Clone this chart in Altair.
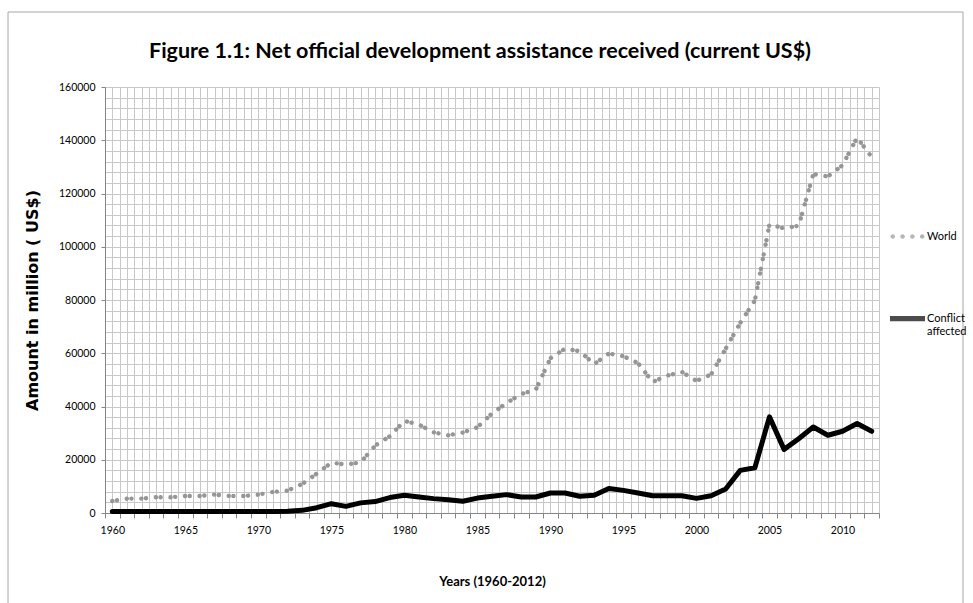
import altair as alt
import pandas as pd

# ---- data ----
years = list(range(1960, 2013))
world = [4500, 5400, 5400, 5900, 5900, 6400, 6400, 6900, 6400, 6400,
         6900, 7900, 8400, 10900, 14800, 18900, 18200, 19000, 25300, 28800,
         34600, 33200, 30300, 29200, 30200, 32200, 37400, 41300, 44700, 46300,
         58100, 61700, 60800, 55900, 59900, 58900, 56300, 49200, 51600, 53000,
         49600, 52000, 61700, 71400, 79800, 108400, 106900, 107900, 127300, 126400,
         130600, 141000, 133700]
conflict = [600, 600, 600, 600, 600, 600, 600, 600, 600, 600,
            600, 600, 700, 1000, 2000, 3500, 2500, 3800, 4300, 5800,
            6650, 6000, 5400, 5000, 4400, 5600, 6300, 6900, 6000, 6000,
            7500, 7500, 6300, 6650, 9200, 8500, 7500, 6500, 6500, 6500,
            5500, 6500, 9000, 16000, 17000, 36100, 23900, 27900, 32300, 29200,
            30700, 33600, 30700]
series_names = ["World", "Conflict affected"]
series_colors = ["#969696", "#000000"]

rows = []
for name, vals in zip(series_names, [world, conflict]):
    for yr, v in zip(years, vals):
        rows.append({"year": yr, "value": v, "series": name})
df = pd.DataFrame(rows)

x_grid = [1959.5 + 0.5 * i for i in range(107)]
y_grid = list(range(0, 160001, 4000))

FONT = "Lato"
GRID = "#c8c8c8"
AXC = "#868686"

x_axis = alt.Axis(
    values=x_grid,
    grid=True, gridColor=GRID, gridWidth=1,
    domainColor=AXC, domainWidth=1,
    tickColor={"condition": {"test": "datum.value % 1 == 0", "value": "transparent"}, "value": AXC},
    tickSize=5, tickWidth=1,
    labelExpr="datum.value % 5 == 0 ? format(datum.value, 'd') : ''",
    labelOverlap=False, labelFlush=False,
    labelPadding=7, labelFont=FONT, labelFontSize=10.5, labelColor="#000000",
    title="Years (1960-2012)", titleFont=FONT, titleFontSize=13, titleFontWeight="bold",
    titleColor="#000000", titleY=62,
)
y_axis = alt.Axis(
    values=y_grid,
    grid=True, gridColor=GRID, gridWidth=1,
    domainColor=AXC, domainWidth=1,
    tickColor={"condition": {"test": "datum.value % 20000 == 0", "value": AXC}, "value": "transparent"},
    tickSize=4, tickWidth=1,
    labelExpr="datum.value % 20000 == 0 ? format(datum.value, 'd') : ''",
    labelOverlap=False, labelFlush=False,
    labelPadding=6, labelFont=FONT, labelFontSize=10.5, labelColor="#000000",
    title="Amount in million ( US$)", titleFont="DejaVu Sans", titleFontSize=16, titleFontWeight="bold",
    titleColor="#000000", titleX=-65, titleY=213,
)

X = alt.X("year:Q", scale=alt.Scale(domain=[1959.5, 2012.5], nice=False, zero=False), axis=x_axis)
Y = alt.Y("value:Q", scale=alt.Scale(domain=[0, 160000], nice=False), axis=y_axis)

world_line = alt.Chart(df).transform_filter(alt.datum.series == "World").mark_line(
    strokeWidth=4.4, strokeCap="round", strokeJoin="round", color=series_colors[0],
    strokeDash=[0.1, 4.6, 0.1, 9.8]
).encode(x=X, y=Y)

conflict_line = alt.Chart(df).transform_filter(alt.datum.series == "Conflict affected").mark_line(
    strokeWidth=5, strokeCap="round", strokeJoin="round", color=series_colors[1]
).encode(x=X, y=Y)

# legend-only layer (no marks drawn): carries the series legend
r = 0.13
dots = " ".join(
    f"M{cx - r:.3f},0 a{r},{r} 0 1,0 {2 * r},0 a{r},{r} 0 1,0 {-2 * r},0"
    for cx in [-0.84, -0.28, 0.28, 0.84]
)
bar = "M-1,-0.15 L1,-0.15 L1,0.15 L-1,0.15 Z"

legend_layer = alt.Chart(df).transform_filter("false").mark_point(filled=True).encode(
    x=X, y=Y,
    color=alt.Color("series:N", scale=alt.Scale(domain=series_names, range=series_colors),
                    legend=alt.Legend(
                        orient="none", legendX=785, legendY=132, title=None,
                        symbolSize=1225, symbolStrokeWidth=0,
                        labelFont=FONT, labelFontSize=11, labelColor="#000000",
                        labelOffset=2, rowPadding=59,
                        labelExpr="datum.label == 'Conflict affected' ? ['Conflict', 'affected'] : datum.label",
                    )),
    shape=alt.Shape("series:N", scale=alt.Scale(domain=series_names, range=[dots, bar])),
)

frame = alt.Chart(pd.DataFrame({"k": [0]})).mark_rect(fill=None, stroke="#a6a6a6", strokeWidth=1).encode(
    x=alt.value(-97), x2=alt.value(858), y=alt.value(-75), y2=alt.value(560)
)

chart = alt.layer(frame, world_line, conflict_line, legend_layer).properties(
    width=774, height=426,
    padding={"left": 105, "top": 87, "right": 94, "bottom": 90},
    autosize=alt.AutoSizeParams(type="none"),
    title=alt.Title("Figure 1.1: Net official development assistance received (current US$)",
                    font=FONT, fontSize=21.5, fontWeight="bold", color="#000000",
                    anchor="middle", frame="group", baseline="alphabetic", offset=0, dy=68, dx=-12),
    background="white",
).configure_view(stroke=None)

chart.save("out.html", embed_options={"renderer": "svg", "actions": False})
